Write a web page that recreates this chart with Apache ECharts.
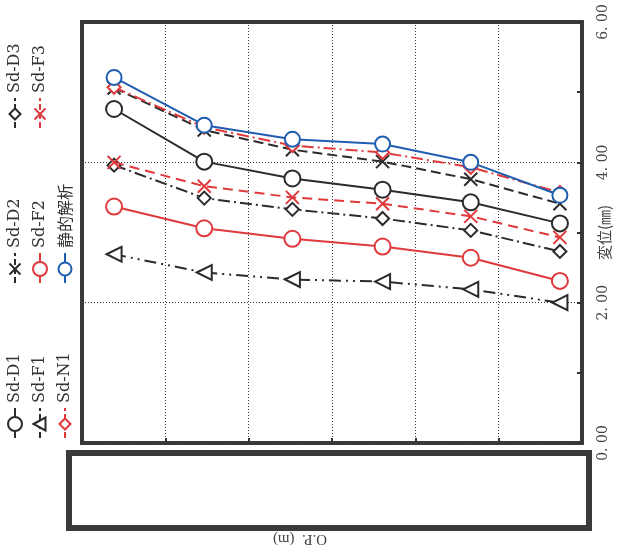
<!DOCTYPE html>
<html><head><meta charset="utf-8">
<script src="https://cdn.jsdelivr.net/npm/echarts@6/dist/echarts.min.js"></script>
<style>html,body{margin:0;padding:0;background:#fff}#c{width:643px;height:548px}</style>
</head><body><div id="c"></div>
<script>
// O.P. position of each measuring point (axis labels hidden in the source)
const opLevels = [0.385, 1.467, 2.525, 3.607, 4.665, 5.735];
// displacement (mm)
const sdD1 = [4.76, 4.01, 3.77, 3.61, 3.43, 3.13];
const sdD2 = [5.06, 4.46, 4.18, 4.01, 3.76, 3.41];
const sdD3 = [3.96, 3.49, 3.33, 3.20, 3.03, 2.73];
const sdF1 = [2.69, 2.43, 2.33, 2.30, 2.19, 2.00];
const sdF2 = [3.37, 3.06, 2.91, 2.80, 2.64, 2.31];
const sdF3 = [4.00, 3.66, 3.50, 3.41, 3.23, 2.93];
const sdN1 = [5.07, 4.50, 4.24, 4.14, 3.93, 3.57];
const seiteki = [5.21, 4.53, 4.33, 4.26, 4.00, 3.53];
const seriesNames = ['Sd-D1','Sd-D2','Sd-D3','Sd-F1','Sd-F2','Sd-F3','Sd-N1','静的解析'];

const BLACK = '#2b2b2b', RED = '#e0393c', BLUE = '#1f5db0';
const X_PATH = 'path://M0,0L10,10M10,0L0,10';
const defs = [
  {data: sdD1, color: BLACK, dash: 'solid', sym: 'circle', size: 16},
  {data: sdD2, color: BLACK, dash: [10, 5], sym: 'x', size: 13},
  {data: sdD3, color: BLACK, dash: [12, 4, 2, 4], sym: 'diamond', size: 13},
  {data: sdF1, color: BLACK, dash: [12, 5, 2, 5, 2, 5], sym: 'triangle', size: 15},
  {data: sdF2, color: RED, dash: 'solid', sym: 'circle', size: 16},
  {data: sdF3, color: RED, dash: [10, 6], sym: 'x', size: 13},
  {data: sdN1, color: RED, dash: [12, 4, 2, 4], sym: 'diamond', size: 13},
  {data: seiteki, color: BLUE, dash: 'solid', sym: 'circle', size: 15}
];

const series = defs.map((d, i) => ({
  name: seriesNames[i],
  type: 'line',
  yAxisIndex: 0,
  data: opLevels.map((x, k) => [x, d.data[k]]),
  symbol: d.sym === 'x' ? X_PATH : d.sym,
  symbolSize: d.size,
  symbolRotate: d.sym === 'triangle' ? 90 : 0,
  showAllSymbol: true,
  lineStyle: {color: d.color, width: 2, type: d.dash},
  itemStyle: {color: d.sym === 'x' ? 'none' : '#fff', borderColor: d.color, borderWidth: 2},
  z: 2 + i,
  animation: false
}));

// legend drawn as rotated graphics (the whole figure is turned 90° CCW)
function legendSymbol(d) {
  const st = {stroke: d.color, lineWidth: 2, fill: '#fff'};
  const s = d.size / 2;
  if (d.sym === 'circle') return {type: 'circle', shape: {cx: 14, cy: 0, r: s - 1}, style: st};
  if (d.sym === 'diamond') return {type: 'polygon', shape: {points: [[14, -s + 1], [14 + s - 1, 0], [14, s - 1], [14 - s + 1, 0]]}, style: st};
  if (d.sym === 'triangle') return {type: 'polygon', shape: {points: [[14, -s + 1], [14 + s - 1, s - 2], [14 - s + 1, s - 2]]}, style: st};
  return {type: 'group', children: [
    {type: 'line', shape: {x1: 14 - s + 1, y1: -s + 1, x2: 14 + s - 1, y2: s - 1}, style: {stroke: d.color, lineWidth: 2}},
    {type: 'line', shape: {x1: 14 - s + 1, y1: s - 1, x2: 14 + s - 1, y2: -s + 1}, style: {stroke: d.color, lineWidth: 2}}
  ]};
}
const legendCols = [15, 40, 65];
const legendRows = [438, 283, 128];
const legendGraphics = defs.map((d, i) => {
  const col = Math.floor(i / 3), row = i % 3;
  return {
    type: 'group', x: legendCols[col], y: legendRows[row], rotation: Math.PI / 2,
    children: [
      {type: 'line', shape: {x1: 0, y1: 0, x2: 30, y2: 0}, style: {stroke: d.color, lineWidth: 2, lineDash: d.dash === 'solid' ? null : [6, 3]}},
      legendSymbol(d),
      {type: 'text', style: {text: seriesNames[i], x: 35, y: 0, fill: '#333', font: (i === 7 ? '16px "Noto Sans CJK JP"' : '16px "DejaVu Serif"'), verticalAlign: 'middle', align: 'left'}}
    ]
  };
});

const chart = echarts.init(document.getElementById('c'));
chart.setOption({
  animation: false,
  backgroundColor: '#fff',
  grid: {show: true, left: 82, right: 61, top: 22, bottom: 105, borderColor: '#3a3a3a', borderWidth: 4, backgroundColor: 'transparent'},
  xAxis: {
    type: 'value', min: 0, max: 6, interval: 1,
    axisLine: {show: false},
    axisLabel: {show: false},
    axisTick: {show: true, inside: true, length: 5, lineStyle: {color: '#333', width: 2}},
    splitLine: {show: true, lineStyle: {color: '#333', width: 1, type: [1, 2]}}
  },
  yAxis: [{
    type: 'value', min: 0, max: 6, interval: 2, position: 'right',
    name: '変位(㎜)', nameLocation: 'middle', nameRotate: 90, nameGap: 15, nameMoveOverlap: false,
    nameTextStyle: {fontFamily: 'Noto Sans CJK JP', fontSize: 15, color: '#444'},
    axisLine: {show: false},
    axisTick: {show: false},
    axisLabel: {rotate: 90, margin: 14, color: '#444', fontFamily: 'DejaVu Serif', fontSize: 14,
      formatter: v => v.toFixed(2).replace('.', '. ')},
    splitLine: {show: true, lineStyle: {color: '#333', width: 1, type: [1, 2]}}
  }, {
    type: 'value', min: 0, max: 6, interval: 1, position: 'right',
    axisLine: {show: false},
    axisTick: {show: true, inside: true, length: 5, lineStyle: {color: '#333', width: 2}},
    axisLabel: {show: false},
    splitLine: {show: false}
  }],
  graphic: [
    {type: 'rect', shape: {x: 69, y: 453, width: 520, height: 75}, style: {fill: '#fff', stroke: '#3a3a3a', lineWidth: 6}},
    {type: 'text', x: 300, y: 539, rotation: Math.PI, style: {text: 'O.P.  (m)', font: '15px "Liberation Serif"', fill: '#444', align: 'center', verticalAlign: 'middle'}},
    ...legendGraphics
  ],
  series: series
});
</script></body></html>
